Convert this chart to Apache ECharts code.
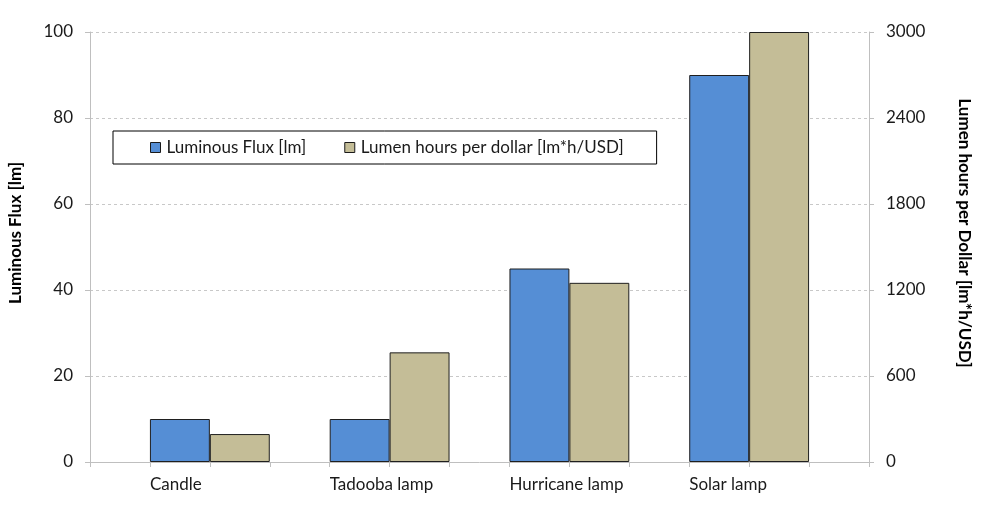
<!DOCTYPE html>
<html>
<head>
<meta charset="utf-8">
<script src="https://cdn.jsdelivr.net/npm/echarts@6/dist/echarts.min.js"></script>
<style>
html,body{margin:0;padding:0;background:#fff;}
#chart{width:989px;height:508px;}
</style>
</head>
<body>
<div id="chart"></div>
<script>
const categories = ['Candle', 'Tadooba lamp', 'Hurricane lamp', 'Solar lamp'];
const luminousFlux = [10, 10, 45, 90];
const lumenHoursPerDollar = [195, 765, 1250, 3000];
const leftTicks = [0, 20, 40, 60, 80, 100];
const rightTicks = [0, 600, 1200, 1800, 2400, 3000];

// Excel-style layout: each category uses 3 slots (gap, flux, lumen-hours) plus a trailing gap
const slotCount = categories.length * 3 + 1;
const slots = Array.from({length: slotCount}, (_, i) => 's' + i);
const fluxSlots = slots.map(() => '-');
const lhSlots = slots.map(() => '-');
const labelAt = {};
categories.forEach((c, i) => {
  fluxSlots[1 + 3 * i] = luminousFlux[i];
  lhSlots[2 + 3 * i] = lumenHoursPerDollar[i];
  labelAt[1 + 3 * i] = c;
});

const FONT = 'Lato, "Liberation Sans", sans-serif';
const chart = echarts.init(document.getElementById('chart'), null, {renderer: 'canvas'});
chart.setOption({
  animation: false,
  backgroundColor: '#ffffff',
  textStyle: {fontFamily: FONT},
  grid: {left: 90, right: 120, top: 32, bottom: 46, containLabel: false, outerBoundsMode: 'none'},
  legend: {
    left: 113, top: 131,
    orient: 'horizontal',
    borderColor: '#000', borderWidth: 1, borderRadius: 0,
    padding: [8, 33, 8, 37],
    itemWidth: 10, itemHeight: 10, itemGap: 38,
    icon: 'rect',
    textStyle: {fontFamily: FONT, fontSize: 17, color: '#1a1a1a', padding: [0, 0, 0, 1]},
    data: [
      {name: 'Luminous Flux [lm]', itemStyle: {borderColor: '#1a1a1a', borderWidth: 1}},
      {name: 'Lumen hours per dollar [lm*h/USD]', itemStyle: {borderColor: '#1a1a1a', borderWidth: 1}}
    ]
  },
  xAxis: [
    {
      type: 'category', data: slots, boundaryGap: true,
      axisLine: {show: true, lineStyle: {color: '#bfbfbf', width: 1}},
      axisTick: {show: true, interval: 0, length: 5, lineStyle: {color: '#bfbfbf'}},
      axisLabel: {show: false},
      splitLine: {show: false}
    },
    {
      type: 'value', min: 0, max: slotCount, interval: 1, position: 'bottom',
      axisLine: {show: false}, axisTick: {show: false}, splitLine: {show: false},
      axisLabel: {
        show: true, margin: 14, align: 'left',
        fontFamily: FONT, fontSize: 17, color: '#1a1a1a',
        formatter: v => labelAt[v] || ''
      }
    }
  ],
  yAxis: [
    {
      type: 'value', min: 0, max: 100, interval: 20, position: 'left',
      name: 'Luminous Flux [lm]', nameLocation: 'middle', nameGap: 66, nameRotate: 90,
      nameTextStyle: {fontFamily: FONT, fontSize: 17, fontWeight: 'bold', color: '#000', padding: [0, 0, 0, 28]},
      axisLine: {show: true, lineStyle: {color: '#bfbfbf'}},
      axisTick: {show: true, length: 5, lineStyle: {color: '#bfbfbf'}},
      axisLabel: {margin: 17, fontFamily: FONT, fontSize: 17, color: '#1a1a1a',
        formatter: v => leftTicks.includes(v) ? String(v) : ''},
      splitLine: {show: true, lineStyle: {color: '#c8c8c8', type: [3, 3], width: 1}}
    },
    {
      type: 'value', min: 0, max: 3000, interval: 600, position: 'right',
      name: 'Lumen hours per Dollar [lm*h/USD]', nameLocation: 'middle', nameGap: 87, nameRotate: -90,
      nameTextStyle: {fontFamily: FONT, fontSize: 17, fontWeight: 'bold', color: '#000', padding: [0, 28, 0, 0]},
      axisLine: {show: true, lineStyle: {color: '#bfbfbf'}},
      axisTick: {show: true, length: 5, lineStyle: {color: '#bfbfbf'}},
      axisLabel: {margin: 17, fontFamily: FONT, fontSize: 17, color: '#1a1a1a',
        formatter: v => rightTicks.includes(v) ? String(v) : ''},
      splitLine: {show: false}
    }
  ],
  series: [
    {
      name: 'Luminous Flux [lm]', type: 'bar', xAxisIndex: 0, yAxisIndex: 0,
      data: fluxSlots, barWidth: '100%', barGap: '-100%',
      itemStyle: {color: '#558ed5', borderColor: '#1f1f1f', borderWidth: 1}
    },
    {
      name: 'Lumen hours per dollar [lm*h/USD]', type: 'bar', xAxisIndex: 0, yAxisIndex: 1,
      data: lhSlots, barWidth: '100%', barGap: '-100%',
      itemStyle: {color: '#c4bd97', borderColor: '#1f1f1f', borderWidth: 1}
    }
  ]
});
</script>
</body>
</html>
